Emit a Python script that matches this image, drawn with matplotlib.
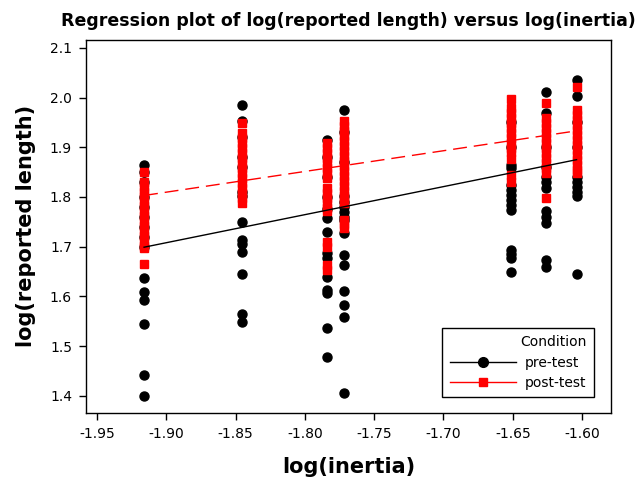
import numpy as np
import matplotlib
matplotlib.use("Agg")
from matplotlib import pyplot as plt
from matplotlib.lines import Line2D

# log(inertia) levels (one column of points each)
inertia = [-1.916, -1.845, -1.784, -1.772, -1.651, -1.626, -1.604]

# log(reported length), pre-test
pre_y = [
    [1.864, 1.850, 1.830, 1.800, 1.780, 1.760, 1.740, 1.720, 1.700, 1.637, 1.608, 1.593, 1.544, 1.443, 1.400],
    [1.985, 1.952, 1.920, 1.880, 1.860, 1.811, 1.801, 1.749, 1.714, 1.706, 1.690, 1.645, 1.565, 1.549],
    [1.915, 1.880, 1.840, 1.800, 1.776, 1.757, 1.730, 1.687, 1.677, 1.640, 1.612, 1.606, 1.536, 1.479],
    [1.975, 1.930, 1.870, 1.801, 1.790, 1.780, 1.770, 1.760, 1.754, 1.727, 1.683, 1.663, 1.610, 1.583, 1.559, 1.406],
    [1.950, 1.900, 1.865, 1.858, 1.824, 1.814, 1.804, 1.794, 1.784, 1.774, 1.694, 1.686, 1.677, 1.649],
    [2.012, 1.969, 1.900, 1.860, 1.841, 1.830, 1.818, 1.771, 1.759, 1.747, 1.673, 1.660],
    [2.036, 2.003, 1.950, 1.900, 1.841, 1.831, 1.821, 1.811, 1.801, 1.645],
]

# log(reported length), post-test
post_y = [
    [1.851, 1.831, 1.821, 1.811, 1.801, 1.791, 1.781, 1.771, 1.761, 1.751, 1.741, 1.731, 1.721, 1.711, 1.701, 1.697, 1.665],
    [1.948, 1.928, 1.918, 1.908, 1.898, 1.888, 1.878, 1.868, 1.858, 1.848, 1.838, 1.828, 1.818, 1.808, 1.798, 1.788],
    [1.908, 1.898, 1.888, 1.878, 1.868, 1.858, 1.848, 1.838, 1.818, 1.808, 1.798, 1.788, 1.778, 1.771, 1.710, 1.700, 1.663, 1.653],
    [1.952, 1.942, 1.932, 1.922, 1.912, 1.902, 1.892, 1.882, 1.872, 1.862, 1.852, 1.842, 1.832, 1.822, 1.812, 1.802, 1.792, 1.788, 1.754, 1.745, 1.737],
    [1.997, 1.979, 1.969, 1.959, 1.949, 1.939, 1.929, 1.919, 1.909, 1.899, 1.891, 1.876, 1.844, 1.831],
    [1.989, 1.959, 1.949, 1.939, 1.929, 1.919, 1.909, 1.899, 1.889, 1.879, 1.869, 1.859, 1.848, 1.797],
    [2.022, 1.975, 1.965, 1.955, 1.945, 1.935, 1.925, 1.915, 1.905, 1.895, 1.885, 1.875, 1.865, 1.855, 1.848],
]

# fitted regression lines (ends)
fit_x = [-1.916, -1.604]
pre_fit = [1.699, 1.875]
post_fit = [1.803, 1.933]

x_ticks = [-1.95, -1.90, -1.85, -1.80, -1.75, -1.70, -1.65, -1.60]
y_ticks = [1.4, 1.5, 1.6, 1.7, 1.8, 1.9, 2.0, 2.1]

pre_x = np.concatenate([[x] * len(v) for x, v in zip(inertia, pre_y)])
post_x = np.concatenate([[x] * len(v) for x, v in zip(inertia, post_y)])
pre_all = np.concatenate(pre_y)
post_all = np.concatenate(post_y)

fig = plt.figure(figsize=(6.36, 4.8), dpi=100)
ax = fig.add_axes([0.135, 0.14, 0.826, 0.777])

ax.plot(pre_x, pre_all, "o", color="black", ms=6.5, zorder=3)
ax.plot(post_x, post_all, "s", color="red", ms=6, mec="red", zorder=4)
ax.plot(fit_x, pre_fit, "-", color="black", lw=1, zorder=5)
ax.plot(fit_x, post_fit, "--", color="red", lw=1, dashes=(10, 5), zorder=5)

ax.set_xlim(-1.958, -1.579)
ax.set_ylim(1.366, 2.116)
ax.set_xticks(x_ticks)
ax.set_xticklabels(["%.2f" % t for t in x_ticks])
ax.set_yticks(y_ticks)
ax.set_yticklabels(["%.1f" % t for t in y_ticks])
ax.tick_params(direction="out", length=5, width=1, labelsize=10, pad=5)
for s in ax.spines.values():
    s.set_linewidth(1)

ax.set_title("Regression plot of log(reported length) versus log(inertia)",
             fontsize=12.5, fontweight="bold", pad=10)
ax.set_xlabel("log(inertia)", fontsize=15, fontweight="bold", labelpad=12)
ax.set_ylabel("log(reported length)", fontsize=15, fontweight="bold", labelpad=10)

handles = [
    Line2D([], [], color="black", lw=1, marker="o", ms=7),
    Line2D([], [], color="red", lw=1, marker="s", ms=6),
]
leg = ax.legend(handles, ["pre-test", "post-test"], title="Condition",
                loc="lower right", bbox_to_anchor=(0.975, 0.03), fontsize=10,
                title_fontsize=10, fancybox=False, edgecolor="black",
                framealpha=1, handlelength=4.8, handletextpad=0.6,
                borderpad=0.55, labelspacing=0.45, borderaxespad=0.3)
leg.get_frame().set_linewidth(1)
leg._legend_box.align = "right"

fig.savefig("out.png", dpi=100)
